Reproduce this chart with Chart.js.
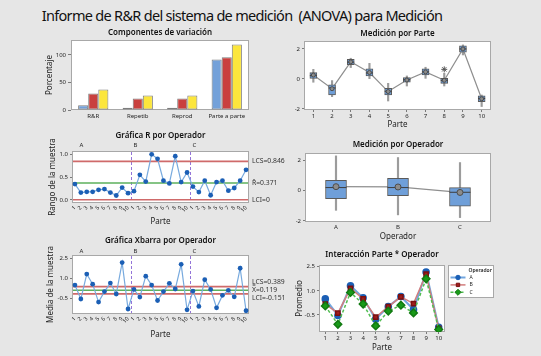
<!DOCTYPE html>
<html><head><meta charset="utf-8">
<script src="https://cdn.jsdelivr.net/npm/chart.js@4.4.1/dist/chart.umd.min.js"></script>
<style>
html,body{margin:0;padding:0;background:#e6e6e6;width:541px;height:356px;overflow:hidden;}
#mainTitle{position:absolute;left:0;width:484px;top:5px;line-height:20px;text-align:center;font-family:'Noto Sans',sans-serif;font-size:14.5px;letter-spacing:-0.7px;white-space:pre;color:#111;}
.box{position:absolute;}
</style></head><body>
<div id="mainTitle">Informe de R&amp;R del sistema de medición  (ANOVA) para Medición</div>
<div class="box" id="b1"><canvas></canvas></div>
<div class="box" id="b3"><canvas></canvas></div>
<div class="box" id="b5"><canvas></canvas></div>
<div class="box" id="b2"><canvas></canvas></div>
<div class="box" id="b4"><canvas></canvas></div>
<div class="box" id="b6"><canvas></canvas></div>
<script>
// ---------------- DATA ----------------
const componentCategories = ['R&R', 'Repetib', 'Reprod', 'Parte a parte'];
const pctContribution = [8.5, 4.3, 4.2, 91.5];
const pctStudyVar = [30, 21, 21, 95.5];
const pctTolerance = [37, 26.3, 26.3, 119];

const parts = ['1', '2', '3', '4', '5', '6', '7', '8', '9', '10'];
const partQ1 = [0.04, -1.07, 0.96, 0.2, -1.07, -0.22, 0.27, -0.29, 1.78, -1.51];
const partQ3 = [0.42, -0.4, 1.31, 0.67, -0.62, 0.09, 0.67, 0.04, 2.2, -1.13];
const partMedian = [0.22, -0.6, 1.12, 0.4, -0.82, -0.05, 0.47, -0.1, 2.0, -1.3];
const partWhiskerLow = [-0.22, -1.18, 0.76, 0.02, -1.47, -0.47, 0.04, -0.47, 1.6, -1.84];
const partWhiskerHigh = [0.64, -0.11, 1.38, 1.04, -0.29, 0.2, 0.78, 0.38, 2.27, -1.07];
const partMean = [0.26, -0.65, 1.14, 0.43, -0.84, -0.07, 0.47, -0.09, 2.0, -1.32];
const partOutlier = [null, null, null, null, null, null, null, 0.64, null, null];

const operators = ['A', 'B', 'C'];
const opQ1 = [-0.53, -0.33, -1.03];
const opQ3 = [0.68, 0.81, 0.2];
const opMedian = [0.2, 0.2, -0.11];
const opWhiskerLow = [-1.3, -1.6, -1.78];
const opWhiskerHigh = [2.29, 2.18, 1.85];
const opMean = [0.26, 0.24, -0.12];

const rangeA = [0.345, 0.16, 0.175, 0.175, 0.22, 0.235, 0.16, 0.095, 0.27, 0.145];
const rangeB = [0.19, 0.55, 0.40, 1.0, 0.90, 0.42, 0.36, 0.96, 0.39, 0.60];
const rangeC = [0.29, 0.17, 0.42, 0.10, 0.39, 0.42, 0.20, 0.26, 0.42, 0.66];
const rLimits = [0.846, 0.371, 0];          // LCS, center, LCI

const meanA = [0.50, -0.53, 1.32, 0.57, -0.76, 0.02, 0.65, -0.16, 2.17, -1.27];
const meanB = [0.18, -0.39, 1.16, 0.50, -0.64, 0.02, 0.63, 0.21, 2.04, -1.33];
const meanC = [0.06, -1.08, 0.90, 0.18, -1.18, -0.26, 0.11, -0.37, 1.75, -1.40];
const xbarLimits = [0.389, 0.119, -0.151];  // LCS, center, LCI

const yTicksComp = [0, 50, 100];
const yTicksMeas = [-2, 0, 2];
const yTicksR = [0, 0.5, 1.0];
const yTicksMean = [-0.5, 1.0, 2.5];

// ---------------- SETUP ----------------
Chart.defaults.font.family = "'Noto Sans', 'Open Sans', sans-serif";
Chart.defaults.color = '#262626';
Chart.defaults.animation = false;

const TITLE_SIZE = 8, TITLE_LH = TITLE_SIZE * 1.2;
const AX_SIZE = 8, AX_LH = AX_SIZE * 1.2;
const TICK_SIZE = 6;
const TICKF = {size: TICK_SIZE, lineHeight: 1};
const FRAME = '#a8a8a8', TICKC = '#7a7a7a';

const plotFrame = {
  id: 'plotFrame',
  beforeDraw(chart) {
    const {ctx, chartArea: a} = chart;
    ctx.save(); ctx.fillStyle = '#ffffff'; ctx.fillRect(a.left, a.top, a.width, a.height); ctx.restore();
  },
  beforeDatasetsDraw(chart) {
    const {ctx, chartArea: a} = chart;
    ctx.save(); ctx.strokeStyle = FRAME; ctx.lineWidth = 1;
    ctx.strokeRect(Math.round(a.left) + 0.5, Math.round(a.top) + 0.5, Math.round(a.width) - 1, Math.round(a.height) - 1);
    ctx.restore();
  }
};
Chart.register(plotFrame);

const fmtNum = v => String(+v.toFixed(3));

const ctrlPlugin = {
  id: 'ctrl',
  beforeDatasetsDraw(chart, args, o) {
    if (!o || !o.limits) return;
    const {ctx, chartArea: a, scales: {x, y}} = chart;
    ctx.save();
    ctx.strokeStyle = '#9474d8'; ctx.lineWidth = 1; ctx.setLineDash([3, 2]);
    const seps = [];
    for (let g = 1; g < o.groups.length; g++) {
      const px = (x.getPixelForValue(g * o.size - 1) + x.getPixelForValue(g * o.size)) / 2;
      seps.push(px);
      ctx.beginPath(); ctx.moveTo(Math.round(px) + 0.5, a.top + 1); ctx.lineTo(Math.round(px) + 0.5, a.bottom - 1); ctx.stroke();
    }
    ctx.setLineDash([]);
    const cols = ['#cf6a6a', '#5cb05c', '#cf6a6a'];
    o.limits.forEach((v, i) => {
      const py = y.getPixelForValue(v);
      ctx.strokeStyle = cols[i]; ctx.lineWidth = 1.6;
      ctx.beginPath(); ctx.moveTo(a.left + 1, py); ctx.lineTo(a.right - 1, py); ctx.stroke();
    });
    ctx.fillStyle = '#262626'; ctx.font = "6px 'Noto Sans'"; ctx.textAlign = 'center'; ctx.textBaseline = 'middle';
    o.groups.forEach((gname, g) => {
      const gx = g === 0 ? a.left + 9.5 : seps[g - 1] + 4.5;
      ctx.fillText(gname, gx, a.top + o.labelDy);
    });
    const yc = y.getPixelForValue(o.limits[1]);
    const yu = Math.min(y.getPixelForValue(o.limits[0]), yc - 8);
    const yl = Math.max(y.getPixelForValue(o.limits[2]), yc + 8);
    ctx.font = "6.8px 'Noto Sans'"; ctx.textAlign = 'left'; ctx.fillStyle = '#333';
    ctx.fillText('LCS=' + fmtNum(o.limits[0]), a.right + 3, yu);
    ctx.fillText(o.centerName + '=' + fmtNum(o.limits[1]), a.right + 3, yc);
    ctx.fillText('LCI=' + fmtNum(o.limits[2]), a.right + 3, yl);
    ctx.restore();
  }
};
Chart.register(ctrlPlugin);

const legendPlugin = {
  id: 'opLegend',
  afterDraw(chart, args, o) {
    if (!o || !o.show) return;
    const {ctx, chartArea: a} = chart;
    const left = Math.round(a.right) + 3.5, top = Math.round(a.top) + 0.5, w = 45, h = 32;
    ctx.save();
    ctx.fillStyle = '#fff'; ctx.fillRect(left, top, w, h);
    ctx.strokeStyle = FRAME; ctx.lineWidth = 1; ctx.strokeRect(left, top, w, h);
    ctx.fillStyle = '#262626'; ctx.font = "600 5px 'Noto Sans'"; ctx.textBaseline = 'middle'; ctx.textAlign = 'left';
    ctx.fillText(o.title, left + 20, top + 5);
    ctx.font = "5px 'Noto Sans'";
    chart.data.datasets.forEach((ds, i) => {
      const yy = top + 12 + i * 7.4;
      ctx.strokeStyle = ds.borderColor; ctx.lineWidth = ds.borderWidth; ctx.setLineDash(ds.borderDash || []);
      ctx.beginPath(); ctx.moveTo(left + 2, yy); ctx.lineTo(left + 17, yy); ctx.stroke();
      ctx.setLineDash([]);
      ctx.fillStyle = ds.pointBackgroundColor; ctx.strokeStyle = ds.pointBorderColor; ctx.lineWidth = 1;
      Chart.helpers.drawPoint(ctx, {pointStyle: ds.pointStyle, radius: ds.pointRadius * 0.8, borderWidth: 1, rotation: 0}, left + 9.5, yy);
      ctx.fillStyle = '#262626';
      ctx.fillText(ds.label, left + 21, yy);
    });
    ctx.restore();
  }
};
Chart.register(legendPlugin);

function yAxis(min, max, vals, fmt, tl, pad) {
  return {
    type: 'linear', position: 'left', min: min, max: max,
    afterBuildTicks: s => { s.ticks = vals.map(v => ({value: v})); },
    ticks: {font: TICKF, padding: pad, color: '#262626', callback: v => fmt(v)},
    grid: {drawOnChartArea: false, drawTicks: true, tickLength: tl, color: TICKC},
    border: {display: false}
  };
}
function xCat(tl, pad, rot, fsize) {
  return {
    type: 'category', offset: true,
    grid: {offset: false, drawOnChartArea: false, drawTicks: tl > 0, tickLength: tl, color: TICKC},
    border: {display: false},
    ticks: {font: {size: fsize || TICK_SIZE, lineHeight: 1}, padding: pad, autoSkip: false, minRotation: rot || 0, maxRotation: rot || 0, color: '#262626'}
  };
}

function mount(id, spec, cfg) {
  const T = Math.floor(spec.titleY - 1 - TITLE_LH / 2);
  const pt = spec.titleY - TITLE_LH / 2 - T;
  const pb = spec.t - T - pt - TITLE_LH;
  const yW = spec.l - spec.L;
  const W = Math.round(2 * yW + (spec.r - spec.l));
  let B, xtPad = 0;
  if (spec.xTitleY != null) { B = Math.ceil(spec.xTitleY + AX_LH / 2); xtPad = B - (spec.xTitleY + AX_LH / 2); }
  else B = spec.B;
  const H = B - T, xH = B - spec.b;
  const box = document.getElementById(id);
  Object.assign(box.style, {left: spec.L + 'px', top: T + 'px', width: W + 'px', height: H + 'px'});
  const o = cfg.options;
  o.responsive = true; o.maintainAspectRatio = false; o.animation = false;
  o.layout = {padding: 0};
  o.plugins = Object.assign({legend: {display: false}, tooltip: {enabled: false}}, o.plugins || {});
  o.plugins.title = {display: true, text: spec.title, font: {size: TITLE_SIZE, weight: '600'}, color: '#111', padding: {top: pt, bottom: pb}};
  o.scales.x.afterFit = s => { s.height = xH; };
  o.scales.y.afterFit = s => { s.width = yW; };
  o.scales.yR = {type: 'linear', position: 'right', display: true, grid: {display: false}, border: {display: false}, ticks: {display: false}, afterFit: s => { s.width = yW; }};
  if (spec.xTitle) o.scales.x.title = {display: true, text: spec.xTitle, font: {size: AX_SIZE}, color: '#222', padding: {top: 0, bottom: xtPad}};
  if (spec.yTitle) o.scales.y.title = {display: true, text: spec.yTitle, font: {size: AX_SIZE}, color: '#222', padding: {top: spec.yTitleX - spec.L - AX_LH / 2, bottom: 0}};
  return new Chart(box.querySelector('canvas'), cfg);
}

// ---------- 1: Componentes de variación ----------
const barStyle = {borderColor: '#7d7d7d', borderWidth: 1, borderSkipped: false};
mount('b1', {L: 0, l: 71, r: 249, t: 40, b: 110, titleY: 33, B: 126, yTitleX: 50, title: 'Componentes de variación', yTitle: 'Porcentaje'}, {
  type: 'bar',
  data: {labels: componentCategories, datasets: [
    Object.assign({label: '% Contribución', data: pctContribution, backgroundColor: '#74a1d9'}, barStyle),
    Object.assign({label: '% Var. del estudio', data: pctStudyVar, backgroundColor: '#c9403e'}, barStyle),
    Object.assign({label: '% Tolerancia', data: pctTolerance, backgroundColor: '#fce63c'}, barStyle)
  ]},
  options: {
    datasets: {bar: {categoryPercentage: 0.68, barPercentage: 1}},
    scales: {x: xCat(0, 3), y: yAxis(0, 127, yTicksComp, v => String(v), 3, 2)}
  }
});

// ---------- 2: Medición por Parte ----------
function boxDatasets(q1, q3, med, lo, hi, mean, boxW, medR, meanR) {
  return [
    {type: 'bar', data: lo.map((v, i) => [v, hi[i]]), backgroundColor: '#9c9c9c', barThickness: 1.5, grouped: false, order: 6, borderWidth: 0},
    {type: 'line', data: mean, borderColor: '#8f8f8f', borderWidth: 1.2, pointRadius: 0, order: 5},
    {type: 'bar', data: q1.map((v, i) => [v, q3[i]]), backgroundColor: '#6f9fd9', borderColor: '#5a5a5a', borderWidth: 1, borderSkipped: false, barThickness: boxW, grouped: false, order: 4},
    {type: 'line', data: med, showLine: false, pointStyle: 'line', pointRadius: medR, pointBorderColor: '#3d3d3d', pointBorderWidth: 1, order: 3},
    {type: 'line', data: mean, showLine: false, pointStyle: 'circle', pointRadius: meanR, pointBackgroundColor: '#8c8c8c', pointBorderColor: '#4d4d4d', pointBorderWidth: 1, order: 2}
  ];
}
const partSets = boxDatasets(partQ1, partQ3, partMedian, partWhiskerLow, partWhiskerHigh, partMean, 7, 3.5, 2);
partSets.push({type: 'line', data: partOutlier, showLine: false, pointStyle: 'star', pointRadius: 3, pointBorderColor: '#555', pointBorderWidth: 1, order: 1});
mount('b2', {L: 270, l: 304, r: 491, t: 41, b: 110, titleY: 34, xTitleY: 125, title: 'Medición por Parte', xTitle: 'Parte'}, {
  type: 'bar',
  data: {labels: parts, datasets: partSets},
  options: {scales: {x: xCat(2, 1), y: yAxis(-2.07, 2.53, yTicksMeas, v => String(v), 2, 2)}}
});

// ---------- 3: Gráfica R ----------
const subgroupLabels = parts.concat(parts, parts);
const seriesStyle = {borderColor: '#78aade', borderWidth: 1.2, pointRadius: 2.4, pointBackgroundColor: '#1b5fb5', pointBorderColor: '#1b5fb5', pointBorderWidth: 0};
mount('b3', {L: 0, l: 72, r: 249, t: 151, b: 203, titleY: 136, xTitleY: 221.7, yTitleX: 53, title: 'Gráfica R por Operador', xTitle: 'Parte', yTitle: 'Rango de la muestra'}, {
  type: 'line',
  data: {labels: subgroupLabels, datasets: [Object.assign({label: 'Rango', data: rangeA.concat(rangeB, rangeC)}, seriesStyle)]},
  options: {
    plugins: {ctrl: {limits: rLimits, groups: operators, size: 10, labelDy: -6, centerName: 'R\u0304'}},
    scales: {x: xCat(0, 2, 45, 5.5), y: yAxis(-0.07, 1.073, yTicksR, v => v.toFixed(1), 2, 2)}
  }
});

// ---------- 4: Medición por Operador ----------
mount('b4', {L: 270, l: 305, r: 491, t: 153, b: 222, titleY: 145, xTitleY: 236.7, title: 'Medición por Operador', xTitle: 'Operador'}, {
  type: 'bar',
  data: {labels: operators, datasets: boxDatasets(opQ1, opQ3, opMedian, opWhiskerLow, opWhiskerHigh, opMean, 21, 10.5, 3)},
  options: {scales: {x: xCat(0, 2), y: yAxis(-2.07, 2.48, yTicksMeas, v => String(v), 2, 2)}}
});

// ---------- 5: Gráfica Xbarra ----------
mount('b5', {L: 0, l: 72, r: 249, t: 255, b: 314, titleY: 241, xTitleY: 334.3, yTitleX: 51, title: 'Gráfica Xbarra por Operador', xTitle: 'Parte', yTitle: 'Media de la muestra'}, {
  type: 'line',
  data: {labels: subgroupLabels, datasets: [Object.assign({label: 'Media', data: meanA.concat(meanB, meanC)}, seriesStyle)]},
  options: {
    plugins: {ctrl: {limits: xbarLimits, groups: operators, size: 10, labelDy: -3.5, centerName: 'X\u033F'}},
    scales: {x: xCat(0, 2, 45, 5.5), y: yAxis(-1.64, 2.73, yTicksMean, v => v.toFixed(1), 2, 2)}
  }
});

// ---------- 6: Interacción ----------
mount('b6', {L: 270, l: 319, r: 445, t: 265, b: 332, titleY: 255, xTitleY: 347.3, yTitleX: 299.3, title: 'Interacción Parte * Operador', xTitle: 'Parte', yTitle: 'Promedio'}, {
  type: 'line',
  data: {labels: parts, datasets: [
    {label: 'A', data: meanA, borderColor: '#72a6de', borderWidth: 2, pointStyle: 'circle', pointRadius: 2.8, pointBackgroundColor: '#1b5fb5', pointBorderColor: '#1b5fb5', order: 3},
    {label: 'B', data: meanB, borderColor: '#d27d7d', borderWidth: 1.5, pointStyle: 'rect', pointRadius: 3, pointBackgroundColor: '#a01c1c', pointBorderColor: '#7a1010', order: 2},
    {label: 'C', data: meanC, borderColor: '#52bd52', borderWidth: 1.5, borderDash: [3, 2], pointStyle: 'rectRot', pointRadius: 3.8, pointBackgroundColor: '#189a18', pointBorderColor: '#127a12', order: 1}
  ]},
  options: {
    plugins: {opLegend: {show: true, title: 'Operador'}},
    scales: {x: xCat(2, 1), y: yAxis(-1.56, 2.61, yTicksMean, v => v.toFixed(1), 2, 2)}
  }
});
</script>
</body></html>
